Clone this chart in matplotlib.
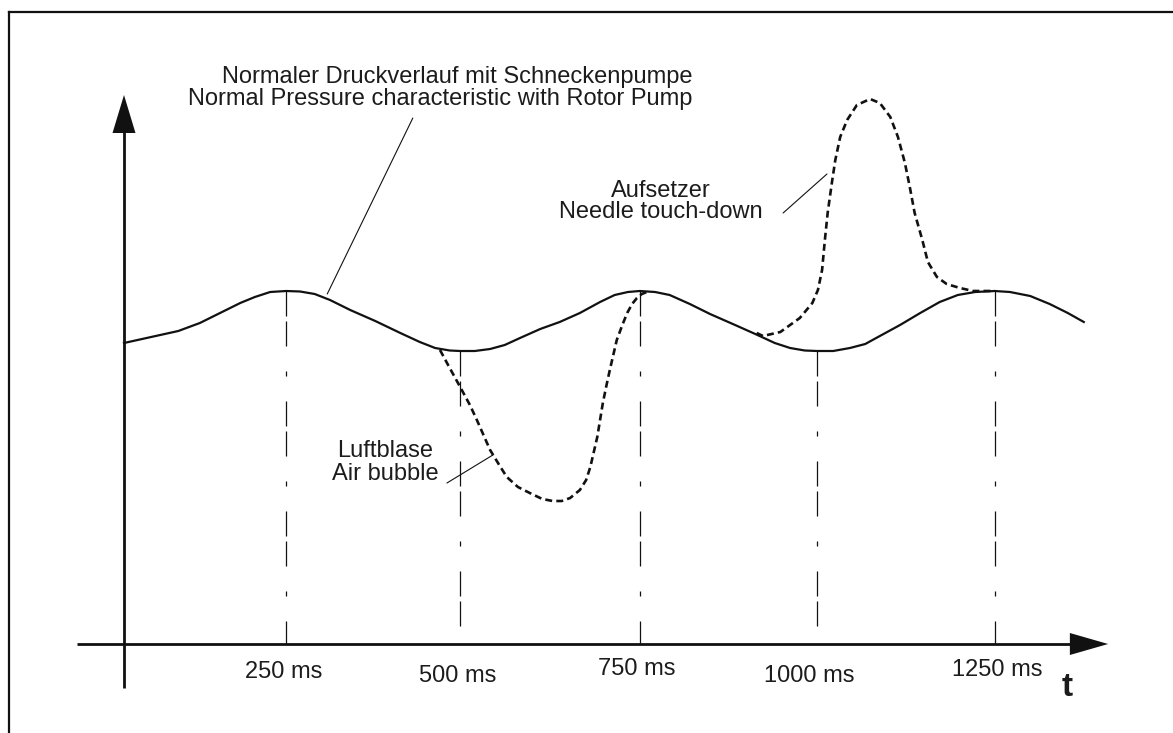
import numpy as np
import matplotlib.pyplot as plt

plt.rcParams['font.family'] = ['Liberation Sans', 'DejaVu Sans']
plt.rcParams['lines.scale_dashes'] = False

# -----------------------------
# DATA (time in ms, pressure in arbitrary units above the t-axis)
# -----------------------------
normal_t = [0, 78, 109, 138, 167, 188, 210, 233, 253, 274, 296, 325, 361, 397, 425,
            447, 468, 483, 504, 526, 547, 569, 598, 626, 655, 684, 705, 724, 741,
            763, 784, 813, 842, 878, 907, 935, 957, 978, 996, 1019, 1043, 1065,
            1086, 1115, 1144, 1172, 1198, 1223, 1251, 1273, 1302, 1330, 1356, 1379]
normal_p = [301, 313, 321, 331, 341, 347, 352, 353, 352.5, 350, 344, 334, 323, 311, 302,
            296, 293.5, 293, 293, 295, 299, 306, 315, 322, 331, 342, 349, 352, 353,
            352, 349, 340, 330, 319, 310, 301, 296, 293.5, 293, 293, 296, 300,
            308, 319, 331, 342, 349, 352, 353, 352, 348, 340, 331, 322]

bubble_t = [454, 468, 483, 497, 507, 526, 540, 550, 566, 583, 601, 616, 629, 641,
            655, 664, 670, 675, 680, 684, 688, 693, 698, 703, 708, 716, 723, 730,
            737, 744, 751]
bubble_p = [294, 276, 257, 239, 224, 194, 178, 167, 157, 151, 145, 143, 143, 146,
            154, 164, 177, 192, 207, 224, 241, 258, 274, 289, 304, 319, 331, 340,
            346, 350, 352]

needle_t = [909, 918, 943, 971, 989, 997, 1003, 1007, 1011, 1017, 1022, 1029, 1039,
            1053, 1072, 1086, 1101, 1112, 1122, 1129, 1136, 1147, 1155, 1168, 1182,
            1201, 1220, 1251]
needle_p = [311, 308, 312, 326, 341, 354, 374, 404, 431, 461, 484, 507, 524,
            539, 545, 541, 527, 507, 481, 457, 431, 404, 382, 367, 360,
            356, 353, 353]

marker_t = [233, 483, 741, 996, 1251]
tick_labels = ["250 ms", "500 ms", "750 ms", "1000 ms", "1250 ms"]

# -----------------------------
# FIGURE
# -----------------------------
PX = 0.696          # pixels per ms
fig = plt.figure(figsize=(11.73, 7.33), dpi=100)
ax = fig.add_axes([0, 0, 1, 1])
ax.set_xlim(-124 / PX, 1049 / PX)
ax.set_ylim(-89, 644)
ax.axis('off')

ink = '#111111'
txt = '#1c1c1c'

# frame (cropped box)
ax.plot([9 / 1173, 1.01], [1 - 12 / 733] * 2, transform=ax.transAxes,
        color=ink, lw=1.6, clip_on=False)
ax.plot([9 / 1173] * 2, [1 - 12 / 733, -0.01], transform=ax.transAxes,
        color=ink, lw=1.6, clip_on=False)

# axes with arrow heads
ax.plot([-67, 1362], [0, 0], color=ink, lw=2.0, solid_capstyle='butt')
ax.fill([1359, 1414, 1359], [11, 0, -11], color=ink, lw=0)
ax.plot([0, 0], [-44, 514], color=ink, lw=2.0, solid_capstyle='butt')
ax.fill([-16.5, 0, 16.5], [511, 549, 511], color=ink, lw=0)

# dash-dot marker lines from curve down to axis
for t in marker_t:
    top = np.interp(t, normal_t, normal_p)
    ax.plot([t, t], [top, 0], color=ink, lw=0.9,
            linestyle=(0, (18, 3.6, 18, 18, 3.6, 18)))

# curves
ax.plot(normal_t, normal_p, color=ink, lw=1.6, solid_joinstyle='round')
ax.plot(bubble_t, bubble_p, color=ink, lw=1.9, linestyle=(0, (5, 3)))
ax.plot(needle_t, needle_p, color=ink, lw=1.9, linestyle=(0, (5, 3)))

# tick labels
label_dx = [-3, -4, -4, -11, 4]
label_dy = [0, -4, 3, -4, 2]
for t, lab, dx, dy in zip(marker_t, tick_labels, label_dx, label_dy):
    ax.text(t + dx, -28 + dy, lab, ha='center', va='center', fontsize=17, color=txt)
ax.text(1355, -43, 't', ha='center', va='center', fontsize=24,
        fontweight='bold', color=txt)

# annotations
ax.text(817, 561, 'Normaler Druckverlauf mit Schneckenpumpe', ha='right',
        va='baseline', fontsize=17, color=txt)
ax.text(817, 539, 'Normal Pressure characteristic with Rotor Pump', ha='right',
        va='baseline', fontsize=17, color=txt)
ax.annotate('', xy=(292, 350), xytext=(415, 526),
            arrowprops=dict(arrowstyle='-', lw=0.8, color=ink,
                            shrinkA=0, shrinkB=0))

ax.text(772, 447, 'Aufsetzer', ha='center', va='baseline', fontsize=17, color=txt)
ax.text(772, 426, 'Needle touch-down', ha='center', va='baseline', fontsize=17,
        color=txt)
ax.annotate('', xy=(1010, 470), xytext=(947, 431),
            arrowprops=dict(arrowstyle='-', lw=0.8, color=ink,
                            shrinkA=0, shrinkB=0))

ax.text(375, 187, 'Luftblase', ha='center', va='baseline', fontsize=17, color=txt)
ax.text(375, 164, 'Air bubble', ha='center', va='baseline', fontsize=17, color=txt)
ax.annotate('', xy=(530, 189), xytext=(464, 161),
            arrowprops=dict(arrowstyle='-', lw=0.8, color=ink,
                            shrinkA=0, shrinkB=0))

fig.savefig('out.png', dpi=100, facecolor='white')
